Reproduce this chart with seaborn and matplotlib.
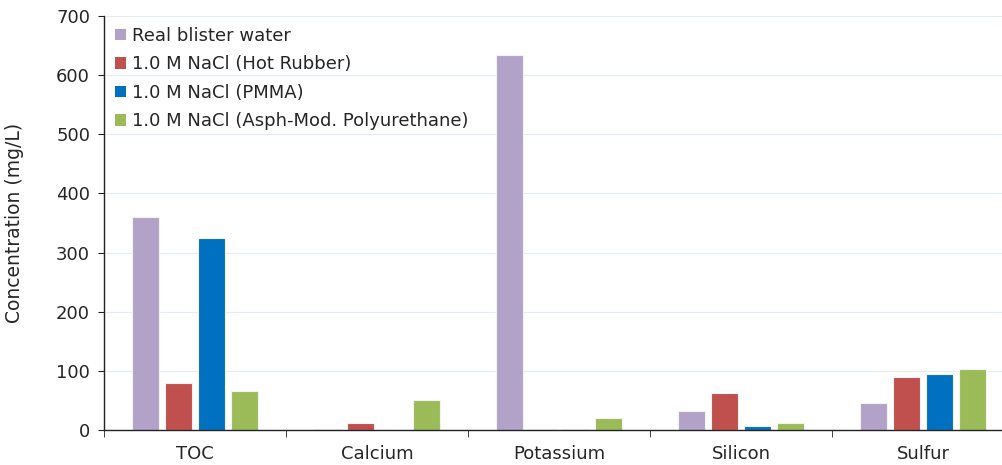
import matplotlib
matplotlib.use("Agg")
import matplotlib.pyplot as plt
import seaborn as sns
import pandas as pd
from matplotlib.ticker import FixedLocator, NullFormatter

categories = ["TOC", "Calcium", "Potassium", "Silicon", "Sulfur"]
series_names = ["Real blister water", "1.0 M NaCl (Hot Rubber)",
                "1.0 M NaCl (PMMA)", "1.0 M NaCl (Asph-Mod. Polyurethane)"]
real_blister = [360, 2, 634, 32, 46]
hot_rubber = [80, 11, 2, 63, 90]
pmma = [325, 0, 2, 6, 95]
asph_pu = [66, 51, 20, 11, 103]
colors = ["#B3A2C7", "#C0504D", "#0070C0", "#9BBB59"]

rows = []
for name, vals in zip(series_names, [real_blister, hot_rubber, pmma, asph_pu]):
    for c, v in zip(categories, vals):
        rows.append({"cat": c, "series": name, "value": v})
df = pd.DataFrame(rows)

sns.set_style("white")
plt.rcParams['font.family'] = ['DejaVu Sans']

fig = plt.figure(figsize=(10.03, 4.65), dpi=100)
ax = fig.add_axes([104/1003, 1-430/465, 910/1003, 414/465])

sns.barplot(data=df, x="cat", y="value", hue="series", order=categories,
            hue_order=series_names, palette=colors, width=0.725, gap=0.2,
            edgecolor="#F2F2F2", linewidth=0.8, ax=ax, saturation=1)

ax.set_xlim(-0.5, 4.5)
ax.set_ylim(0, 700)
ax.set_yticks(range(0, 701, 100))
ax.yaxis.grid(True, color="#E4ECF6", linewidth=0.8)
ax.set_axisbelow(True)
ax.set_xlabel("")
ax.set_ylabel("Concentration (mg/L)", fontsize=13.5)
ax.yaxis.set_label_coords(-80/910, 0.5)
for s in ["top", "right"]:
    ax.spines[s].set_visible(False)
for s in ["left", "bottom"]:
    ax.spines[s].set_color("#222222")
    ax.spines[s].set_linewidth(1.0)

ax.tick_params(axis="x", which="major", length=0, labelsize=13, pad=11)
ax.xaxis.set_minor_locator(FixedLocator([-0.5, 0.5, 1.5, 2.5, 3.5, 4.5]))
ax.xaxis.set_minor_formatter(NullFormatter())
ax.tick_params(axis="x", which="minor", length=5, direction="out", color="#222222", bottom=True)
ax.tick_params(axis="y", length=4, direction="out", labelsize=13, color="#222222", left=True, pad=6)

leg = ax.legend(loc="upper left", frameon=False, fontsize=13, handlelength=0.6,
                handleheight=0.6, handletextpad=0.35, labelspacing=0.58,
                bbox_to_anchor=(0.0, 1.0), borderaxespad=0.2)
for h in leg.legend_handles:
    h.set_edgecolor("none")

fig.savefig("out.png", dpi=100)
